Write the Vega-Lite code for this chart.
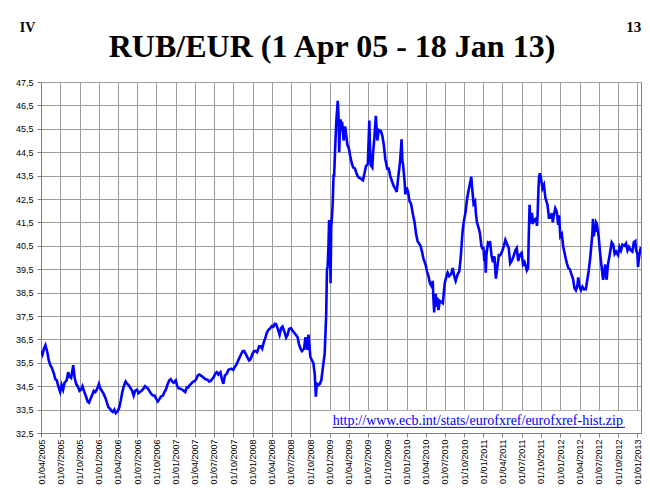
{
  "$schema": "https://vega.github.io/schema/vega-lite/v6.json",
  "width": 600,
  "height": 351,
  "autosize": {"type": "none"},
  "padding": {"left": 41, "top": 82, "right": 9, "bottom": 55},
  "background": "#ffffff",
  "title": {"text": "RUB/EUR (1 Apr 05 - 18 Jan 13)", "font": "Liberation Serif", "fontSize": 32, "fontWeight": "bold", "color": "#000000", "anchor": "middle", "baseline": "alphabetic", "dx": -9, "dy": 89, "offset": 20},
  "config": {
    "view": {"stroke": "#808080", "strokeWidth": 1},
    "axis": {"gridColor": "#9c9c9c", "gridWidth": 1, "gridOpacity": 1, "domainColor": "#808080", "tickColor": "#808080", "labelFont": "Liberation Sans", "labelFontSize": 9, "labelColor": "#000000", "labelOverlap": false}
  },
  "data": {"values": [
{"d":"2005-04-01","v":36.0},{"d":"2005-04-08","v":35.85},{"d":"2005-04-15","v":36.1},{"d":"2005-04-22","v":36.25},
{"d":"2005-05-01","v":35.95},{"d":"2005-05-08","v":35.6},{"d":"2005-05-15","v":35.4},{"d":"2005-05-22","v":35.3},
{"d":"2005-06-01","v":35.05},{"d":"2005-06-08","v":34.8},{"d":"2005-06-15","v":34.75},{"d":"2005-06-22","v":34.5},
{"d":"2005-07-01","v":34.25},{"d":"2005-07-08","v":34.55},{"d":"2005-07-15","v":34.35},{"d":"2005-07-22","v":34.65},
{"d":"2005-08-01","v":34.75},{"d":"2005-08-08","v":35.1},{"d":"2005-08-15","v":34.9},{"d":"2005-08-22","v":34.85},
{"d":"2005-09-01","v":35.4},{"d":"2005-09-08","v":34.85},{"d":"2005-09-15","v":34.6},{"d":"2005-09-22","v":34.5},
{"d":"2005-10-01","v":34.3},{"d":"2005-10-08","v":34.35},{"d":"2005-10-15","v":34.5},{"d":"2005-10-22","v":34.3},
{"d":"2005-11-01","v":34.05},{"d":"2005-11-08","v":33.85},{"d":"2005-11-15","v":33.8},{"d":"2005-11-22","v":33.95},
{"d":"2005-12-01","v":34.15},{"d":"2005-12-08","v":34.3},{"d":"2005-12-15","v":34.25},{"d":"2005-12-22","v":34.35},
{"d":"2006-01-01","v":34.6},{"d":"2006-01-08","v":34.4},{"d":"2006-01-15","v":34.3},{"d":"2006-01-22","v":34.2},
{"d":"2006-02-01","v":34.0},{"d":"2006-02-08","v":33.8},{"d":"2006-02-15","v":33.6},{"d":"2006-02-22","v":33.55},
{"d":"2006-03-01","v":33.45},{"d":"2006-03-08","v":33.4},{"d":"2006-03-15","v":33.5},{"d":"2006-03-22","v":33.35},
{"d":"2006-04-01","v":33.45},{"d":"2006-04-08","v":33.6},{"d":"2006-04-15","v":33.9},{"d":"2006-04-22","v":34.25},
{"d":"2006-05-01","v":34.55},{"d":"2006-05-08","v":34.7},{"d":"2006-05-15","v":34.6},{"d":"2006-05-22","v":34.55},
{"d":"2006-06-01","v":34.4},{"d":"2006-06-08","v":34.3},{"d":"2006-06-15","v":34.1},{"d":"2006-06-22","v":34.3},
{"d":"2006-07-01","v":34.35},{"d":"2006-07-08","v":34.2},{"d":"2006-07-15","v":34.25},{"d":"2006-07-22","v":34.3},
{"d":"2006-08-01","v":34.4},{"d":"2006-08-08","v":34.5},{"d":"2006-08-15","v":34.45},{"d":"2006-08-22","v":34.4},
{"d":"2006-09-01","v":34.25},{"d":"2006-09-08","v":34.15},{"d":"2006-09-15","v":34.1},{"d":"2006-09-22","v":34.1},
{"d":"2006-10-01","v":33.95},{"d":"2006-10-08","v":33.85},{"d":"2006-10-15","v":33.95},{"d":"2006-10-22","v":34.05},
{"d":"2006-11-01","v":34.1},{"d":"2006-11-08","v":34.25},{"d":"2006-11-15","v":34.35},{"d":"2006-11-22","v":34.55},
{"d":"2006-12-01","v":34.75},{"d":"2006-12-08","v":34.8},{"d":"2006-12-15","v":34.7},{"d":"2006-12-22","v":34.65},
{"d":"2007-01-01","v":34.75},{"d":"2007-01-08","v":34.5},{"d":"2007-01-15","v":34.4},{"d":"2007-01-22","v":34.4},
{"d":"2007-02-01","v":34.35},{"d":"2007-02-08","v":34.3},{"d":"2007-02-15","v":34.25},{"d":"2007-02-22","v":34.45},
{"d":"2007-03-01","v":34.45},{"d":"2007-03-08","v":34.55},{"d":"2007-03-15","v":34.6},{"d":"2007-03-22","v":34.68},
{"d":"2007-04-01","v":34.72},{"d":"2007-04-08","v":34.8},{"d":"2007-04-15","v":34.95},{"d":"2007-04-22","v":35.0},
{"d":"2007-05-01","v":34.95},{"d":"2007-05-08","v":34.9},{"d":"2007-05-15","v":34.85},{"d":"2007-05-22","v":34.8},
{"d":"2007-06-01","v":34.78},{"d":"2007-06-08","v":34.7},{"d":"2007-06-15","v":34.72},{"d":"2007-06-22","v":34.8},
{"d":"2007-07-01","v":34.9},{"d":"2007-07-08","v":35.05},{"d":"2007-07-15","v":35.1},{"d":"2007-07-22","v":35.0},
{"d":"2007-08-01","v":35.1},{"d":"2007-08-08","v":34.8},{"d":"2007-08-15","v":34.6},{"d":"2007-08-22","v":34.95},
{"d":"2007-09-01","v":35.05},{"d":"2007-09-08","v":35.2},{"d":"2007-09-15","v":35.22},{"d":"2007-09-22","v":35.25},
{"d":"2007-10-01","v":35.2},{"d":"2007-10-08","v":35.32},{"d":"2007-10-15","v":35.4},{"d":"2007-10-22","v":35.55},
{"d":"2007-11-01","v":35.75},{"d":"2007-11-08","v":35.88},{"d":"2007-11-15","v":36.0},{"d":"2007-11-22","v":36.0},
{"d":"2007-12-01","v":35.85},{"d":"2007-12-08","v":35.72},{"d":"2007-12-15","v":35.6},{"d":"2007-12-22","v":35.65},
{"d":"2008-01-01","v":35.9},{"d":"2008-01-08","v":36.0},{"d":"2008-01-15","v":36.0},{"d":"2008-01-22","v":35.95},
{"d":"2008-02-01","v":36.2},{"d":"2008-02-08","v":36.2},{"d":"2008-02-15","v":36.1},{"d":"2008-02-22","v":36.35},
{"d":"2008-03-01","v":36.55},{"d":"2008-03-08","v":36.78},{"d":"2008-03-15","v":36.9},{"d":"2008-03-22","v":36.95},
{"d":"2008-04-01","v":37.07},{"d":"2008-04-08","v":37.04},{"d":"2008-04-15","v":37.17},{"d":"2008-04-22","v":37.15},
{"d":"2008-05-01","v":36.9},{"d":"2008-05-08","v":36.7},{"d":"2008-05-15","v":36.98},{"d":"2008-05-22","v":37.05},
{"d":"2008-06-01","v":36.8},{"d":"2008-06-08","v":36.58},{"d":"2008-06-15","v":36.7},{"d":"2008-06-22","v":36.95},
{"d":"2008-07-01","v":36.98},{"d":"2008-07-08","v":36.88},{"d":"2008-07-15","v":36.8},{"d":"2008-07-22","v":36.72},
{"d":"2008-08-01","v":36.6},{"d":"2008-08-08","v":36.3},{"d":"2008-08-15","v":36.1},{"d":"2008-08-22","v":36.0},
{"d":"2008-09-01","v":36.1},{"d":"2008-09-08","v":36.6},{"d":"2008-09-15","v":36.05},{"d":"2008-09-22","v":36.7},
{"d":"2008-10-01","v":35.75},{"d":"2008-10-08","v":35.62},{"d":"2008-10-15","v":35.5},{"d":"2008-10-22","v":35.0},{"d":"2008-10-27","v":34.05},
{"d":"2008-11-01","v":34.6},{"d":"2008-11-08","v":34.55},{"d":"2008-11-15","v":34.6},{"d":"2008-11-22","v":34.75},
{"d":"2008-12-01","v":35.4},{"d":"2008-12-08","v":35.9},{"d":"2008-12-15","v":37.5},{"d":"2008-12-19","v":39.5},{"d":"2008-12-22","v":39.6},{"d":"2008-12-26","v":40.5},{"d":"2008-12-29","v":41.6},
{"d":"2009-01-01","v":41.4},{"d":"2009-01-05","v":38.9},{"d":"2009-01-08","v":41.3},{"d":"2009-01-12","v":41.8},{"d":"2009-01-15","v":42.3},{"d":"2009-01-19","v":43.5},{"d":"2009-01-22","v":43.5},{"d":"2009-01-26","v":44.5},
{"d":"2009-02-01","v":45.8},{"d":"2009-02-05","v":46.3},{"d":"2009-02-08","v":46.7},{"d":"2009-02-12","v":46.0},{"d":"2009-02-15","v":44.5},{"d":"2009-02-19","v":45.6},{"d":"2009-02-22","v":45.9},{"d":"2009-02-26","v":45.4},
{"d":"2009-03-01","v":45.8},{"d":"2009-03-08","v":45.0},{"d":"2009-03-15","v":45.6},{"d":"2009-03-22","v":45.1},{"d":"2009-03-26","v":44.8},
{"d":"2009-04-01","v":44.7},{"d":"2009-04-08","v":44.35},{"d":"2009-04-15","v":44.05},{"d":"2009-04-22","v":43.85},
{"d":"2009-05-01","v":43.8},{"d":"2009-05-08","v":43.6},{"d":"2009-05-15","v":43.45},{"d":"2009-05-22","v":43.4},
{"d":"2009-06-01","v":43.35},{"d":"2009-06-08","v":43.3},{"d":"2009-06-15","v":43.6},{"d":"2009-06-22","v":43.9},
{"d":"2009-07-01","v":44.0},{"d":"2009-07-08","v":45.85},{"d":"2009-07-12","v":44.5},{"d":"2009-07-15","v":43.95},{"d":"2009-07-22","v":43.85},{"d":"2009-07-26","v":44.5},
{"d":"2009-08-01","v":45.1},{"d":"2009-08-08","v":46.05},{"d":"2009-08-15","v":45.0},{"d":"2009-08-22","v":45.45},
{"d":"2009-09-01","v":45.4},{"d":"2009-09-08","v":45.2},{"d":"2009-09-15","v":44.8},{"d":"2009-09-22","v":44.2},
{"d":"2009-10-01","v":43.8},{"d":"2009-10-08","v":43.8},{"d":"2009-10-15","v":43.5},{"d":"2009-10-22","v":43.3},
{"d":"2009-11-01","v":43.05},{"d":"2009-11-08","v":42.95},{"d":"2009-11-15","v":42.8},{"d":"2009-11-22","v":43.4},
{"d":"2009-12-01","v":44.1},{"d":"2009-12-05","v":44.6},{"d":"2009-12-08","v":45.05},{"d":"2009-12-12","v":44.1},{"d":"2009-12-15","v":44.0},{"d":"2009-12-22","v":43.3},{"d":"2009-12-26","v":42.7},
{"d":"2010-01-01","v":43.0},{"d":"2010-01-08","v":42.8},{"d":"2010-01-15","v":42.4},{"d":"2010-01-22","v":42.3},
{"d":"2010-02-01","v":41.8},{"d":"2010-02-08","v":41.5},{"d":"2010-02-15","v":41.0},{"d":"2010-02-22","v":40.7},
{"d":"2010-03-01","v":40.6},{"d":"2010-03-08","v":40.5},{"d":"2010-03-15","v":40.25},{"d":"2010-03-22","v":39.95},
{"d":"2010-04-01","v":39.7},{"d":"2010-04-08","v":39.4},{"d":"2010-04-15","v":39.2},{"d":"2010-04-22","v":38.9},
{"d":"2010-05-01","v":38.75},{"d":"2010-05-05","v":39.0},{"d":"2010-05-08","v":38.3},{"d":"2010-05-12","v":37.65},{"d":"2010-05-15","v":38.3},{"d":"2010-05-19","v":38.45},{"d":"2010-05-22","v":37.9},{"d":"2010-05-26","v":38.3},
{"d":"2010-06-01","v":37.75},{"d":"2010-06-08","v":38.15},{"d":"2010-06-15","v":38.1},{"d":"2010-06-22","v":38.05},
{"d":"2010-07-01","v":38.9},{"d":"2010-07-08","v":39.15},{"d":"2010-07-15","v":39.35},{"d":"2010-07-22","v":39.2},
{"d":"2010-08-01","v":39.3},{"d":"2010-08-08","v":39.55},{"d":"2010-08-15","v":39.2},{"d":"2010-08-22","v":39.0},
{"d":"2010-09-01","v":39.3},{"d":"2010-09-08","v":39.4},{"d":"2010-09-15","v":40.0},{"d":"2010-09-22","v":40.9},{"d":"2010-09-26","v":41.3},
{"d":"2010-10-01","v":41.6},{"d":"2010-10-08","v":41.95},{"d":"2010-10-15","v":42.5},{"d":"2010-10-22","v":42.85},
{"d":"2010-11-01","v":43.3},{"d":"2010-11-04","v":43.45},{"d":"2010-11-08","v":43.0},{"d":"2010-11-15","v":42.3},{"d":"2010-11-22","v":42.4},{"d":"2010-11-26","v":41.9},
{"d":"2010-12-01","v":41.5},{"d":"2010-12-08","v":41.3},{"d":"2010-12-15","v":41.05},{"d":"2010-12-22","v":40.5},{"d":"2010-12-26","v":40.4},
{"d":"2011-01-01","v":40.4},{"d":"2011-01-05","v":39.85},{"d":"2011-01-08","v":40.3},{"d":"2011-01-12","v":39.35},{"d":"2011-01-15","v":40.1},{"d":"2011-01-22","v":40.6},{"d":"2011-01-26","v":40.55},
{"d":"2011-02-01","v":40.7},{"d":"2011-02-08","v":40.1},{"d":"2011-02-15","v":39.8},{"d":"2011-02-22","v":40.05},
{"d":"2011-03-01","v":39.1},{"d":"2011-03-05","v":39.35},{"d":"2011-03-08","v":39.6},{"d":"2011-03-15","v":40.1},{"d":"2011-03-22","v":40.1},
{"d":"2011-04-01","v":40.3},{"d":"2011-04-08","v":40.5},{"d":"2011-04-15","v":40.75},{"d":"2011-04-22","v":40.6},
{"d":"2011-05-01","v":40.4},{"d":"2011-05-08","v":39.75},{"d":"2011-05-15","v":39.85},{"d":"2011-05-22","v":40.0},
{"d":"2011-06-01","v":40.3},{"d":"2011-06-08","v":40.4},{"d":"2011-06-15","v":39.85},{"d":"2011-06-22","v":40.1},
{"d":"2011-07-01","v":40.2},{"d":"2011-07-08","v":39.7},{"d":"2011-07-15","v":39.8},{"d":"2011-07-22","v":39.6},{"d":"2011-07-26","v":39.45},
{"d":"2011-08-01","v":39.55},{"d":"2011-08-04","v":40.9},{"d":"2011-08-08","v":42.25},{"d":"2011-08-12","v":41.5},{"d":"2011-08-15","v":41.5},{"d":"2011-08-19","v":41.9},{"d":"2011-08-22","v":41.7},{"d":"2011-08-26","v":41.5},
{"d":"2011-09-01","v":41.55},{"d":"2011-09-08","v":41.7},{"d":"2011-09-12","v":41.35},{"d":"2011-09-15","v":41.8},{"d":"2011-09-19","v":42.9},{"d":"2011-09-22","v":43.45},{"d":"2011-09-26","v":43.6},
{"d":"2011-10-01","v":43.4},{"d":"2011-10-08","v":42.95},{"d":"2011-10-15","v":43.1},{"d":"2011-10-22","v":42.55},
{"d":"2011-11-01","v":42.25},{"d":"2011-11-08","v":41.7},{"d":"2011-11-15","v":41.7},{"d":"2011-11-22","v":41.9},{"d":"2011-11-26","v":41.5},
{"d":"2011-12-01","v":41.8},{"d":"2011-12-08","v":42.1},{"d":"2011-12-15","v":41.95},{"d":"2011-12-22","v":41.4},{"d":"2011-12-26","v":41.8},
{"d":"2012-01-01","v":40.9},{"d":"2012-01-08","v":41.0},{"d":"2012-01-15","v":40.45},{"d":"2012-01-22","v":40.15},
{"d":"2012-02-01","v":39.75},{"d":"2012-02-08","v":39.55},{"d":"2012-02-15","v":39.5},{"d":"2012-02-22","v":39.3},
{"d":"2012-03-01","v":39.1},{"d":"2012-03-08","v":38.7},{"d":"2012-03-15","v":38.6},{"d":"2012-03-22","v":38.8},{"d":"2012-03-26","v":39.15},
{"d":"2012-04-01","v":38.75},{"d":"2012-04-08","v":38.6},{"d":"2012-04-15","v":38.75},{"d":"2012-04-22","v":38.65},
{"d":"2012-05-01","v":38.65},{"d":"2012-05-08","v":39.05},{"d":"2012-05-15","v":39.45},{"d":"2012-05-22","v":40.0},
{"d":"2012-06-01","v":41.0},{"d":"2012-06-04","v":41.65},{"d":"2012-06-08","v":40.9},{"d":"2012-06-12","v":41.2},{"d":"2012-06-15","v":41.1},{"d":"2012-06-19","v":41.5},{"d":"2012-06-22","v":41.45},{"d":"2012-06-26","v":41.2},
{"d":"2012-07-01","v":40.9},{"d":"2012-07-08","v":40.15},{"d":"2012-07-15","v":39.6},{"d":"2012-07-22","v":39.05},
{"d":"2012-08-01","v":39.7},{"d":"2012-08-04","v":39.25},{"d":"2012-08-08","v":39.05},{"d":"2012-08-12","v":39.5},{"d":"2012-08-15","v":39.75},{"d":"2012-08-22","v":40.1},
{"d":"2012-09-01","v":40.65},{"d":"2012-09-08","v":40.55},{"d":"2012-09-15","v":40.15},{"d":"2012-09-22","v":40.25},
{"d":"2012-10-01","v":40.1},{"d":"2012-10-08","v":40.45},{"d":"2012-10-15","v":40.3},{"d":"2012-10-22","v":40.55},
{"d":"2012-11-01","v":40.5},{"d":"2012-11-08","v":40.6},{"d":"2012-11-15","v":40.3},{"d":"2012-11-22","v":40.45},
{"d":"2012-12-01","v":40.3},{"d":"2012-12-08","v":40.25},{"d":"2012-12-15","v":40.65},{"d":"2012-12-22","v":40.7},{"d":"2012-12-26","v":40.3},
{"d":"2013-01-01","v":40.15},{"d":"2013-01-04","v":39.6},{"d":"2013-01-08","v":39.95},{"d":"2013-01-11","v":40.15},{"d":"2013-01-15","v":40.35},{"d":"2013-01-18","v":40.45}
  ]},
  "layer": [
    {
      "mark": {"type": "line", "color": "#0000ff", "strokeWidth": 2.6, "clip": true},
      "encoding": {
        "x": {"field": "d", "type": "temporal", "title": null,
          "scale": {"type": "utc", "domain": [{"year": 2005, "month": 4, "date": 1, "utc": true}, {"year": 2013, "month": 1, "date": 18, "utc": true}], "nice": false},
          "axis": {"format": "%d/%m/%Y", "tickCount": {"interval": "month", "step": 3}, "labelAngle": -90, "labelOverlap": false, "labelFlush": false, "labelBound": false, "tickSize": 4, "labelPadding": 2, "grid": true}},
        "y": {"field": "v", "type": "quantitative", "title": null,
          "scale": {"domain": [32.5, 47.5], "nice": false, "zero": false},
          "axis": {"values": [32.5, 33.5, 34.5, 35.5, 36.5, 37.5, 38.5, 39.5, 40.5, 41.5, 42.5, 43.5, 44.5, 45.5, 46.5, 47.5], "tickCount": 20, "labelExpr": "replace(format(datum.value, '.1f'), '.', ',')", "tickSize": 4, "labelPadding": 4, "grid": true, "labelOverlap": false, "labelFlush": false, "labelBound": false}}
      }
    },
    {
      "data": {"values": [{}]},
      "mark": {"type": "rect", "color": "#ffffff", "opacity": 1},
      "encoding": {
        "x": {"datum": {"year": 2009, "month": 1, "date": 1, "utc": true}, "type": "temporal", "title": null},
        "x2": {"datum": {"year": 2013, "month": 1, "date": 18, "utc": true}},
        "y": {"datum": 32.5, "type": "quantitative", "title": null},
        "y2": {"datum": 33.45}
      }
    },
    {
      "data": {"values": [{}]},
      "mark": {"type": "text", "text": "http://www.ecb.int/stats/eurofxref/eurofxref-hist.zip", "font": "Liberation Serif", "fontSize": 14, "color": "#0000ee", "align": "left", "baseline": "alphabetic"},
      "encoding": {
        "x": {"datum": {"year": 2009, "month": 1, "date": 15, "utc": true}, "type": "temporal", "title": null},
        "y": {"datum": 32.83, "type": "quantitative", "title": null}
      }
    },
    {
      "data": {"values": [{}]},
      "mark": {"type": "rule", "color": "#0000ee", "strokeWidth": 1},
      "encoding": {
        "x": {"datum": {"year": 2009, "month": 1, "date": 15, "utc": true}, "type": "temporal", "title": null},
        "x2": {"datum": {"year": 2012, "month": 11, "date": 3, "utc": true}},
        "y": {"datum": 32.74, "type": "quantitative", "title": null}
      }
    },
    {
      "data": {"values": [{}]},
      "mark": {"type": "text", "text": "IV", "font": "Liberation Serif", "fontSize": 14, "fontWeight": "bold", "color": "#000000", "align": "center", "baseline": "alphabetic", "clip": false},
      "encoding": {
        "x": {"datum": {"year": 2005, "month": 1, "date": 27, "utc": true}, "type": "temporal", "title": null},
        "y": {"datum": 49.62, "type": "quantitative", "title": null}
      }
    },
    {
      "data": {"values": [{}]},
      "mark": {"type": "text", "text": "13", "font": "Liberation Serif", "fontSize": 15, "fontWeight": "bold", "color": "#000000", "align": "center", "baseline": "alphabetic", "clip": false},
      "encoding": {
        "x": {"datum": {"year": 2012, "month": 12, "date": 14, "utc": true}, "type": "temporal", "title": null},
        "y": {"datum": 49.62, "type": "quantitative", "title": null}
      }
    }
  ]
}
